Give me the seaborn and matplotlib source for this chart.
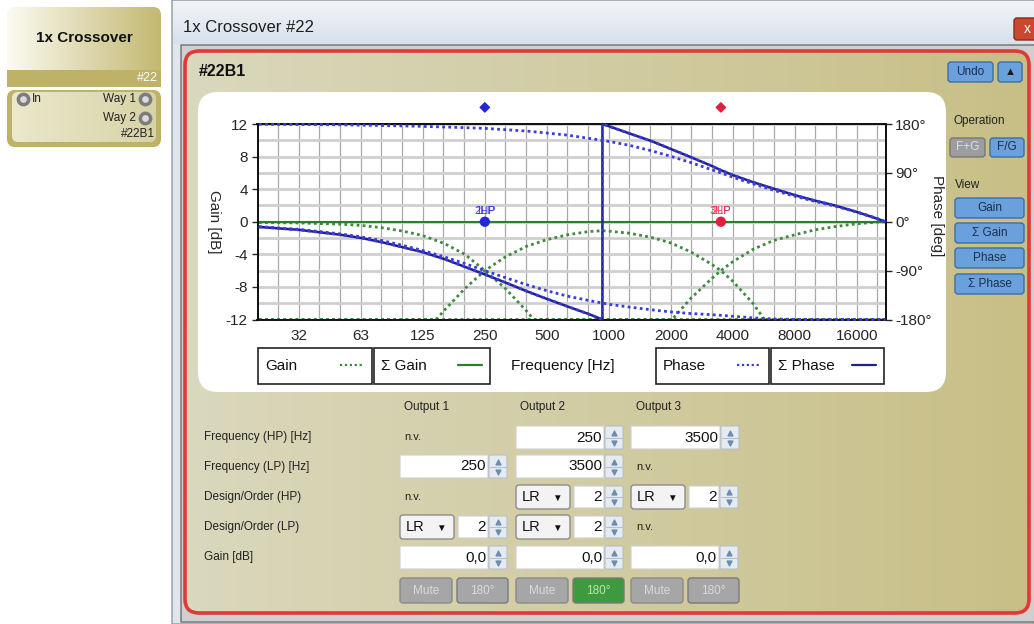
import numpy as np
import pandas as pd
import matplotlib.pyplot as plt
import seaborn as sns
from matplotlib.patches import FancyBboxPatch
from matplotlib.colors import to_rgb
import matplotlib.ticker as mticker

# crossover points (Output 1 LP / Output 2 HP at 250, Output 2 LP / Output 3 HP at 3500)
xover_freq = [250, 3500]
xover_gain = [0, 0]
xover_name = ['a', 'b']
xover_color = ['#2626d9', '#e0203c']
xover_text = [('2HP', '1LP'), ('3HP', '2LP')]

# gain per output [dB] (values sitting on the -12 edge are clipped there)
gain1_f = [20, 31.5, 50, 63, 80, 100, 125, 160, 200, 250, 315, 400, 432, 22050]
gain1_v = [-0.1, -0.15, -0.3, -0.45, -0.75, -1.15, -1.7, -2.7, -4.0, -6.0, -8.2, -11.0, -12, -12]
gain2_f = [20, 145, 160, 200, 250, 315, 400, 500, 630, 800, 930, 1000, 1250, 1600, 2000, 2500,
           3150, 3500, 4000, 5000, 5700, 22050]
gain2_v = [-12, -12, -10.8, -8.2, -6.0, -4.3, -3.0, -2.2, -1.6, -1.2, -1.1, -1.15, -1.4, -1.9, -2.6, -3.7,
           -5.2, -6.0, -7.3, -10.0, -12, -12]
gain3_f = [20, 2030, 2500, 3150, 3500, 4000, 5000, 6300, 8000, 10000, 12500, 16000, 20000, 22050]
gain3_v = [-12, -12, -9.4, -7.0, -6.0, -4.9, -3.4, -2.3, -1.6, -1.0, -0.6, -0.25, -0.05, 0]
sum_gain_f = [20, 22050]
sum_gain_v = [0, 0]

# phase per output [deg]
phase1_f = [20, 31.5, 50, 63, 80, 100, 125, 160, 200, 250, 315, 400, 500, 630, 800, 1000, 1250, 1600,
            2000, 2500, 3150, 4000, 5000, 6300, 8000, 22050]
phase1_v = [-9, -14, -22.5, -28, -35, -43.5, -53, -65, -77, -90, -103, -116, -127, -137, -145, -152, -157,
            -162, -166, -169, -171, -174, -177, -179, -180, -180]
phase3_f = [20, 50, 100, 160, 250, 400, 630, 1000, 1250, 1600, 2000, 2500, 3150, 3500, 4000, 5000, 6300,
            8000, 10000, 12500, 16000, 20000, 22050]
phase3_v = [179.5, 178.5, 176.5, 174.5, 172, 167, 159.5, 148, 141, 131, 120.5, 109, 96, 90, 82, 70, 58,
            47, 37.5, 29, 18, 6, 0]
# sum phase wraps from -180 to +180 near 930 Hz; output 2 (inverted) lies on top of it
sum_phase_f = [20, 31.5, 50, 63, 80, 100, 125, 160, 200, 250, 315, 400, 500, 630, 800, 931, 931, 1000,
               1250, 1600, 2000, 2500, 3150, 3500, 4000, 5000, 6300, 8000, 10000, 12500, 16000, 20000, 22050]
sum_phase_v = [-9.5, -15, -24, -30, -38, -47, -56, -69, -83, -97, -112, -128, -142, -156, -170, -180, 180,
               176, 163, 149, 134, 119, 103, 95, 86, 73, 61, 49, 39, 30, 18, 6, 0]
phase2_f = sum_phase_f
phase2_v = sum_phase_v

freq_ticks = [31.25, 62.5, 125, 250, 500, 1000, 2000, 4000, 8000, 16000]
freq_labels = ['32', '63', '125', '250', '500', '1000', '2000', '4000', '8000', '16000']
gain_ticks = [-12, -8, -4, 0, 4, 8, 12]
phase_ticks = [-180, -90, 0, 90, 180]
phase_labels = ['-180°', '-90°', '0°', '90°', '180°']

sns.set_style('white')
plt.rcParams['font.family'] = ['Liberation Sans', 'DejaVu Sans']
plt.rcParams['axes.unicode_minus'] = False

W, H = 1034, 624
fig = plt.figure(figsize=(W / 100, H / 100), dpi=100)
ui = fig.add_axes([0, 0, 1, 1])
ui.axis('off')


def rbox(x0, y0, x1, y1, fc='none', ec='none', lw=1, r=3, z=1):
    p = FancyBboxPatch((x0, y0), x1 - x0, y1 - y0, boxstyle=f'round,pad=0,rounding_size={r}',
                       fc=fc, ec=ec, lw=lw, zorder=z)
    ui.add_patch(p)
    return p


def grad(x0, y0, x1, y1, c0, c1, vertical=False, clip=None, z=0.5):
    t = np.linspace(0, 1, 64)
    cols = np.outer(1 - t, to_rgb(c0)) + np.outer(t, to_rgb(c1))
    img = cols[:, None, :] if vertical else cols[None, :, :]
    im = ui.imshow(img, extent=(x0, x1, y1, y0), aspect='auto', zorder=z, interpolation='bilinear')
    if clip is not None:
        im.set_clip_path(clip)


def txt(x, y, s, size=8.5, ha='left', color='#222222', **kw):
    ui.text(x, y, s, fontsize=size, ha=ha, va='center', color=color, zorder=6, **kw)


def spinner(x, y0, y1):
    rbox(x, y0, x + 18, y1, fc='#e6ebf1', ec='#b5c0cb', lw=0.8, r=1, z=3)
    ym = (y0 + y1) / 2
    ui.plot([x + 1, x + 17], [ym, ym], color='#b5c0cb', lw=0.8, zorder=4)
    ui.scatter([x + 9], [ym - 5], marker='^', s=12, c='#6a8db3', zorder=5)
    ui.scatter([x + 9], [ym + 5], marker='v', s=12, c='#6a8db3', zorder=5)


def field(x0, x1, y0, y1, s):
    rbox(x0, y0, x1 - 20, y1, fc='white', ec='#d0d0d0', lw=0.8, r=0, z=3)
    txt(x1 - 22, (y0 + y1) / 2, s, size=11, ha='right', color='#111111')
    spinner(x1 - 19, y0, y1)


def dropdown(x0, x1, y0, y1):
    rbox(x0, y0, x1, y1, fc='#f3f3f3', ec='#8c8c8c', lw=1, r=3, z=3)
    txt(x0 + 6, (y0 + y1) / 2, 'LR', size=10.5, color='#111111')
    txt(x1 - 13, (y0 + y1) / 2 + 1, '▼', size=7, ha='center', color='#111111')


def button(x0, x1, y0, y1, s, fc, ec, tc, size=8.5):
    rbox(x0, y0, x1, y1, fc=fc, ec=ec, lw=1, r=3, z=3)
    txt((x0 + x1) / 2, (y0 + y1) / 2, s, size=size, ha='center', color=tc)


# ---- left node widget
top = rbox(7, 7, 161, 87, ec='none', r=8, z=0.4)
grad(7, 7, 161, 87, '#fbfaf0', '#c3b972', clip=top)
rbox(7, 70, 161, 87, fc='#bdb267', r=0, z=0.6)
txt(84, 38, '1x Crossover', size=11, ha='center', weight='bold', color='#111111')
txt(158, 78, '#22', size=9, ha='right', color='white')
rbox(7, 90, 161, 147, fc='#bdb267', r=8, z=0.4)
inner = rbox(12, 92, 156, 142, r=6, z=0.45)
grad(12, 92, 156, 142, '#ebe8cc', '#d8d3a6', clip=inner, z=0.5)
ui.scatter([23, 145, 145], [99, 99, 118], s=55, fc='#d9d9d9', ec='#7c7c7c', lw=2.5, zorder=5)
txt(32, 99, 'In', size=8.5)
txt(136, 99, 'Way 1', size=8.5, ha='right')
txt(136, 118, 'Way 2', size=8.5, ha='right')
txt(155, 134, '#22B1', size=8.5, ha='right')

# ---- window frame
rbox(172, 0, 1034, 624, fc='#dfe6ee', ec='#8f9aa5', lw=1, r=0, z=0.2)
grad(173, 1, 1034, 44, '#f1f5f9', '#d7e1ec', vertical=True, z=0.3)
txt(183, 27, '1x Crossover #22', size=12, color='#1e1e1e')
button(1014, 1040, 18, 40, 'x', '#c9482e', '#8a2a1a', 'white', size=10)
rbox(181, 45, 1040, 622, fc='#cfcfcf', ec='#6f6f6f', lw=1, r=0, z=0.35)
dlg = rbox(185, 51, 1029, 613, ec='#e23838', lw=2.6, r=14, z=2)
grad(185, 51, 1029, 613, '#dad8bd', '#c8bf87', clip=dlg, z=0.6)
txt(199, 72, '#22B1', size=11.5, weight='bold', color='#111111')
rbox(198, 92, 946, 392, fc='white', r=20, z=0.8)

# right side buttons
blue_b, blue_e = '#6aa0dc', '#3c6ea8'
button(948, 993, 62, 82, 'Undo', blue_b, blue_e, '#1d2f4d')
button(998, 1022, 62, 82, '▲', blue_b, blue_e, '#1a1a1a', size=8)
txt(953, 121, 'Operation', size=8.5)
button(950, 985, 138, 157, 'F+G', '#9d9d9d', '#777777', '#cfe0f2')
button(990, 1024, 138, 157, 'F/G', blue_b, blue_e, '#1d2f4d')
txt(955, 185, 'View', size=8.5)
for y0, s in zip([198, 223, 248, 274], ['Gain', 'Σ Gain', 'Phase', 'Σ Phase']):
    button(955, 1024, y0, y0 + 20, s, blue_b, blue_e, '#1d2f4d')

# ---- parameter table
for y, s in zip([437, 467, 497, 527, 557],
                ['Frequency (HP) [Hz]', 'Frequency (LP) [Hz]', 'Design/Order (HP)', 'Design/Order (LP)', 'Gain [dB]']):
    txt(204, y, s, size=8.5)
for x, s in zip([404, 520, 636], ['Output 1', 'Output 2', 'Output 3']):
    txt(x, 407, s, size=8.5)
for x, y in [(404, 437), (404, 497), (636, 467), (636, 527)]:
    txt(x, y, 'n.v.', size=8)
field(516, 624, 426, 449, '250')
field(631, 740, 426, 449, '3500')
field(400, 508, 455, 478, '250')
field(516, 624, 455, 478, '3500')
for x0, y0 in [(516, 485), (631, 485), (400, 515), (516, 515)]:
    dropdown(x0, x0 + 54, y0, y0 + 24)
    field(x0 + 58, x0 + 108, y0 + 1, y0 + 23, '2')
for x0 in [400, 516, 631]:
    field(x0, x0 + 108, 546, 569, '0,0')
    button(x0, x0 + 52, 578, 603, 'Mute', '#a6a6a6', '#8a8a8a', '#dadada')
for x0, fc, tc in [(400, '#a6a6a6', '#dadada'), (516, '#3e9a3e', '#bfe8b0'), (631, '#a6a6a6', '#dadada')]:
    button(x0 + 57, x0 + 108, 578, 603, '180°', fc, '#7a7a7a', tc)

# ---- legend row under the chart
green, green_s = '#3f8a3f', '#2e7c2e'
blue, navy = '#3c3cd8', '#1f1f8c'
dots = (0, (1, 1.2))
for x0, x1, s, c, ls in [(258, 372, 'Gain', green, dots), (374, 490, 'Σ Gain', green_s, '-'),
                         (656, 769, 'Phase', blue, dots), (771, 884, 'Σ Phase', navy, '-')]:
    rbox(x0, 348, x1, 384, fc='white', ec='#222222', lw=1.2, r=0, z=2)
    txt(x0 + 7, 366, s, size=11, color='#111111')
    ui.plot([x1 - 32, x1 - 8], [365, 365], color=c, lw=1.6, ls=ls, zorder=5)
txt(563, 366, 'Frequency [Hz]', size=11, ha='center', color='#111111')

ui.set_xlim(0, W)
ui.set_ylim(H, 0)

# ---- the chart itself
L, R, T, B = 257.5, 885.5, 124, 319.5
ax = fig.add_axes([L / W, 1 - B / H, (R - L) / W, (B - T) / H], zorder=3)
ax.set_facecolor('white')
ax.set_xscale('log')
ax.set_xlim(19.69, 22050)
ax.set_ylim(-12, 12)
ax.xaxis.set_major_locator(mticker.FixedLocator(freq_ticks))
ax.xaxis.set_major_formatter(mticker.FixedFormatter(freq_labels))
ax.xaxis.set_minor_locator(mticker.FixedLocator([1000 * 2 ** (k / 3) for k in range(-16, 14)]))
ax.xaxis.set_minor_formatter(mticker.NullFormatter())
ax.set_yticks(gain_ticks)
ax.yaxis.set_minor_locator(mticker.MultipleLocator(2))
ax.grid(True, which='both', axis='x', color='#a9a9a9', lw=0.9)
ax.grid(True, which='both', axis='y', color='#cfcfcf', lw=2)
ax.set_axisbelow(True)
ax.tick_params(axis='both', which='major', labelsize=11, length=4, width=1, direction='out', pad=3)
ax.tick_params(axis='both', which='minor', length=0)
for sp in ax.spines.values():
    sp.set_color('#111111')
    sp.set_linewidth(1.3)
ax.set_ylabel('Gain [dB]', rotation=270, fontsize=11, va='center')
ax.yaxis.set_label_coords(-0.069, 0.5)
ax.set_xlabel('')

for f, v in [(gain1_f, gain1_v), (gain2_f, gain2_v), (gain3_f, gain3_v)]:
    sns.lineplot(x=f, y=v, ax=ax, color=green, linestyle=dots, linewidth=2, estimator=None, sort=False,
                 clip_on=False, zorder=3)
sns.lineplot(x=sum_gain_f, y=sum_gain_v, ax=ax, color=green_s, linewidth=1.5, estimator=None, sort=False,
             zorder=3)

sns.scatterplot(x=xover_freq, y=xover_gain, hue=xover_name, palette=xover_color, s=55, ax=ax,
                legend=False, edgecolor='none', zorder=6)
ax.scatter(xover_freq, [1.085, 1.085], transform=ax.get_xaxis_transform(), marker='D', s=22,
           c=xover_color, clip_on=False, zorder=6)
for f, c, (s1, s2) in zip(xover_freq, xover_color, xover_text):
    for s in (s1, s2):
        ax.text(f, 0.75, s, ha='center', va='bottom', fontsize=8, color=c, alpha=0.8, zorder=6)

ax2 = ax.twinx()
ax2.set_ylim(-180, 180)
ax2.set_yticks(phase_ticks)
ax2.set_yticklabels(phase_labels)
ax2.tick_params(axis='y', labelsize=11, length=4, width=1, pad=3)
ax2.grid(False)
for sp in ax2.spines.values():
    sp.set_color('#111111')
    sp.set_linewidth(1.3)
ax2.set_ylabel('Phase [deg]', rotation=270, fontsize=11, va='center')
ax2.yaxis.set_label_coords(1.082, 0.53)

sns.lineplot(x=sum_phase_f, y=sum_phase_v, ax=ax2, color=navy, linewidth=1.8, estimator=None, sort=False,
             clip_on=False, zorder=3)
for f, v in [(phase1_f, phase1_v), (phase2_f, phase2_v), (phase3_f, phase3_v)]:
    sns.lineplot(x=f, y=v, ax=ax2, color=blue, linestyle=dots, linewidth=2, estimator=None, sort=False,
                 clip_on=False, zorder=4)
ax2.set_xlabel('')

fig.savefig('out.png', dpi=100)
